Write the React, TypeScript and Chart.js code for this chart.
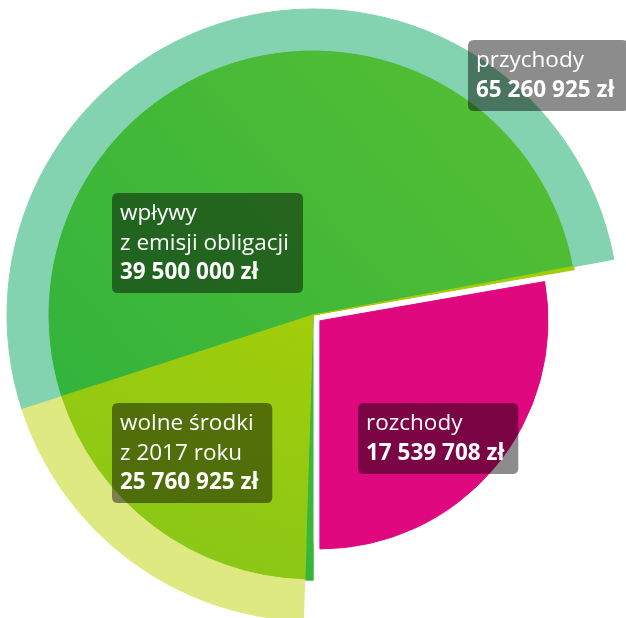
import React, { useEffect, useRef } from 'react';
import { Chart, registerables } from 'chart.js';

Chart.register(...registerables);

// Angular segments (degrees, clockwise from startAngle)
const segmentNames = [
  'wpływy z emisji obligacji',
  'wolne środki (pasek)',
  'rozchody',
  'wpływy (pasek)',
  'wolne środki z 2017 roku',
];
const segmentDegrees = [187.5, 0.6, 99.9, 1.8, 70.2];
const startAngle = 252;

// label texts
const labelTitles = [['przychody'], ['wpływy', 'z emisji obligacji'], ['wolne środki', 'z 2017 roku'], ['rozchody']];
const labelAmounts = ['65 260 925 zł', '39 500 000 zł', '25 760 925 zł', '17 539 708 zł'];

const NONE = 'rgba(0,0,0,0)';
const TEAL = '#84D3B0';
const PALE = '#DFE982';
const PINK = '#E0087F';

type Kind = 'teal' | 'pale' | 'green' | 'lime' | 'pink' | 'none';
const outerKinds: Kind[] = ['teal', 'none', 'none', 'none', 'pale'];
const middleKinds: Kind[] = ['green', 'lime', 'none', 'green', 'lime'];
const innerKinds: Kind[] = ['green', 'lime', 'pink', 'green', 'lime'];

function colorFor(chart: any, kind: Kind): any {
  const ctx = chart.ctx as CanvasRenderingContext2D;
  const a = chart.chartArea;
  if (!a) return NONE;
  const cx = (a.left + a.right) / 2;
  const cy = (a.top + a.bottom) / 2;
  if (kind === 'green') {
    const g = ctx.createLinearGradient(cx + 200, cy - 260, cx - 220, cy + 120);
    g.addColorStop(0, '#55BE33');
    g.addColorStop(1, '#33B43C');
    return g;
  }
  if (kind === 'lime') {
    const g = ctx.createLinearGradient(cx, cy, cx - 100, cy + 265);
    g.addColorStop(0, '#A2CD09');
    g.addColorStop(1, '#8AC718');
    return g;
  }
  if (kind === 'teal') return TEAL;
  if (kind === 'pale') return PALE;
  if (kind === 'pink') return PINK;
  return NONE;
}

const labelPlugin = {
  id: 'boxLabels',
  afterDatasetsDraw(chart: any) {
    const ctx = chart.ctx as CanvasRenderingContext2D;
    const a = chart.chartArea;
    const cx = (a.left + a.right) / 2;
    const cy = (a.top + a.bottom) / 2;
    const anchors = [
      [155, -275],
      [-201, -122],
      [-201, 88],
      [45, 88],
    ];
    const font = '"Open Sans", "Liberation Sans", sans-serif';
    const size = 22.5;
    labelTitles.forEach((lines, i) => {
      const all = [...lines, labelAmounts[i]];
      ctx.save();
      let w = 0;
      all.forEach((t, j) => {
        ctx.font = (j === all.length - 1 ? 'bold ' : '') + size + 'px ' + font;
        w = Math.max(w, ctx.measureText(t).width);
      });
      const bx = cx + anchors[i][0];
      const by = cy + anchors[i][1];
      const bw = w + 22;
      const bh = 29 * all.length + 13;
      const r = 6;
      ctx.beginPath();
      ctx.moveTo(bx + r, by);
      ctx.lineTo(bx + bw - r, by);
      ctx.quadraticCurveTo(bx + bw, by, bx + bw, by + r);
      ctx.lineTo(bx + bw, by + bh - r);
      ctx.quadraticCurveTo(bx + bw, by + bh, bx + bw - r, by + bh);
      ctx.lineTo(bx + r, by + bh);
      ctx.quadraticCurveTo(bx, by + bh, bx, by + bh - r);
      ctx.lineTo(bx, by + r);
      ctx.quadraticCurveTo(bx, by, bx + r, by);
      ctx.closePath();
      ctx.fillStyle = 'rgba(0,0,0,0.45)';
      ctx.fill();
      ctx.fillStyle = '#ffffff';
      ctx.textBaseline = 'alphabetic';
      ctx.textAlign = 'left';
      all.forEach((t, j) => {
        ctx.font = (j === all.length - 1 ? 'bold ' : '') + size + 'px ' + font;
        ctx.fillText(t, bx + 8, by + 27 + 29.5 * j);
      });
      ctx.restore();
    });
  },
};

export default function App() {
  const ref = useRef<HTMLCanvasElement | null>(null);
  useEffect(() => {
    if (!ref.current) return;
    const mk = (kinds: Kind[]) => (c: any) => colorFor(c.chart, kinds[c.dataIndex]);
    const chart = new Chart(ref.current, {
      type: 'doughnut',
      data: {
        labels: segmentNames,
        datasets: [
          {
            data: segmentDegrees,
            weight: 41,
            backgroundColor: mk(outerKinds),
            borderColor: mk(outerKinds),
            borderWidth: 1,
            hoverOffset: 0,
          } as any,
          {
            data: segmentDegrees,
            weight: 37,
            backgroundColor: mk(middleKinds),
            borderColor: mk(middleKinds),
            borderWidth: 1.5,
            hoverOffset: 0,
          } as any,
          {
            data: segmentDegrees,
            weight: 228,
            backgroundColor: mk(innerKinds),
            borderColor: mk(innerKinds),
            borderWidth: 1,
            offset: [0, 0, 36, 0, 0],
            hoverOffset: 0,
          } as any,
        ],
      },
      options: {
        responsive: false,
        maintainAspectRatio: false,
        devicePixelRatio: 1,
        animation: false,
        events: [],
        rotation: startAngle,
        cutout: 0,
        radius: 306,
        layout: { padding: { top: 12, left: 0, right: 0, bottom: 0 } },
        plugins: { legend: { display: false }, tooltip: { enabled: false } },
      } as any,
      plugins: [labelPlugin],
    });
    return () => chart.destroy();
  }, []);
  return (
    <div style={{ position: 'fixed', left: 0, top: 0, width: 626, height: 618 }}>
      <canvas ref={ref} width={626} height={618} style={{ display: 'block', width: 626, height: 618 }} />
    </div>
  );
}
